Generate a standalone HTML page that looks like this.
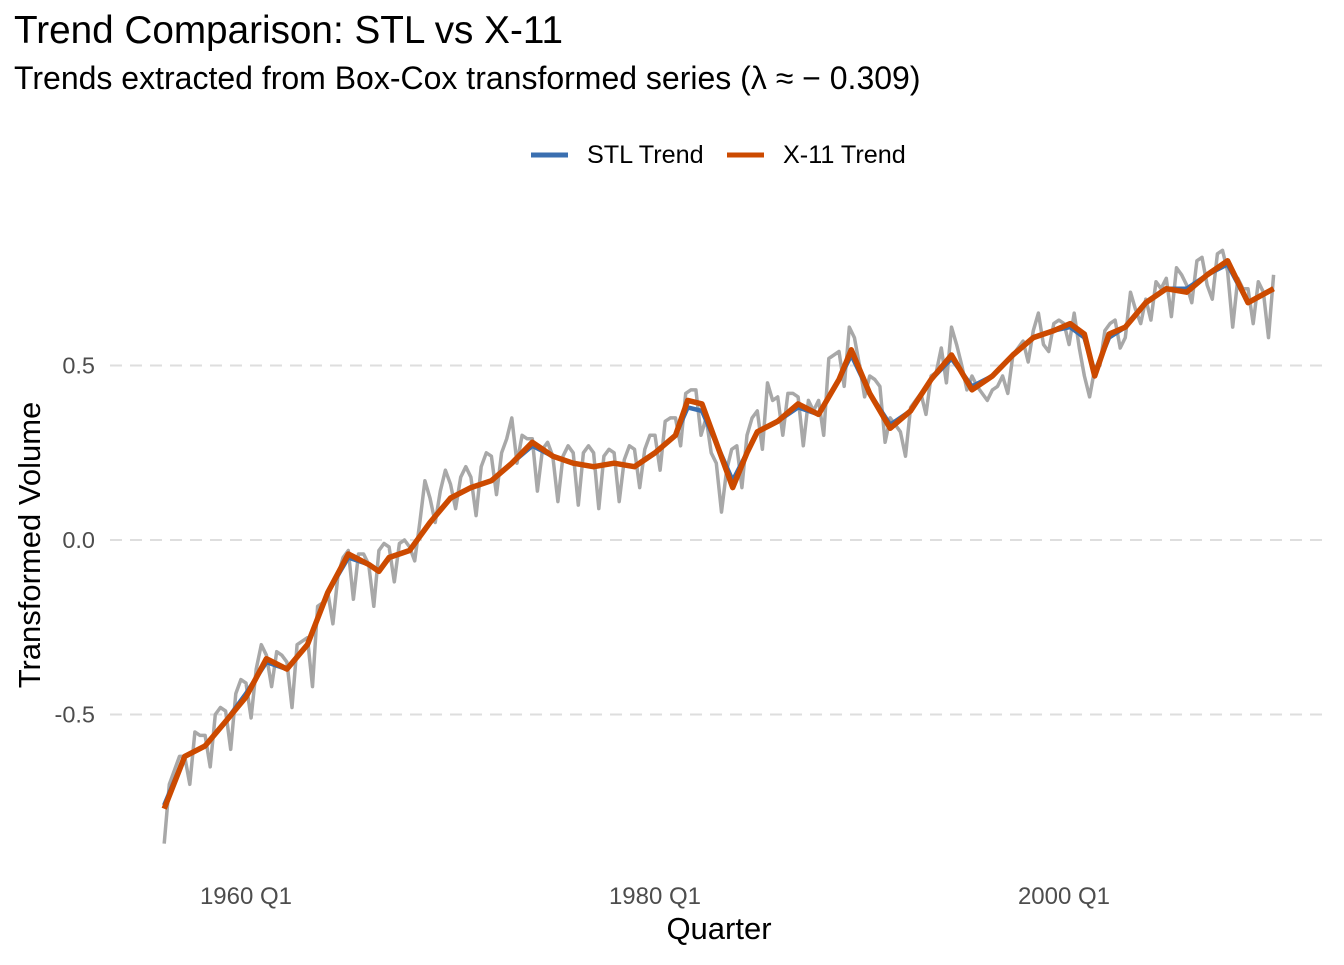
<!DOCTYPE html>
<html><head><meta charset="utf-8"><style>
body{margin:0;background:#fff;}
svg text{font-family:"Liberation Sans",Arial,sans-serif;}
</style></head><body>
<svg id="chart" width="1344" height="960" viewBox="0 0 1344 960" xmlns="http://www.w3.org/2000/svg">
<rect width="1344" height="960" fill="#fff"/>
<text x="14" y="43" font-size="38.7" fill="#000">Trend Comparison: STL vs X-11</text>
<text x="14" y="89" font-size="32" fill="#000">Trends extracted from Box-Cox transformed series (λ ≈ − 0.309)</text>
<g>
<line x1="531" y1="155" x2="568" y2="155" stroke="#3a6fb0" stroke-width="5"/>
<text x="587" y="163" font-size="25.2" fill="#000">STL Trend</text>
<line x1="727" y1="155" x2="764" y2="155" stroke="#cc4a00" stroke-width="5"/>
<text x="783" y="163" font-size="25.2" fill="#000">X-11 Trend</text>
</g>
<g id="grid"></g>
<g id="yticks"></g>
<g id="xticks"></g>
<g id="series"></g>
<text x="719" y="939" font-size="31" text-anchor="middle" fill="#000">Quarter</text>
<text transform="translate(40,545) rotate(-90)" font-size="31" text-anchor="middle" fill="#000">Transformed Volume</text>
</svg>
<script>
const yTicks=[-0.5,0,0.5];
const yTickLabels=["-0.5","0.0","0.5"];
const xTicks=[1960,1980,2000];
const xTickLabels=["1960 Q1","1980 Q1","2000 Q1"];
const rawStart=1956;
const rawValues=[
-0.87,-0.70,-0.66,-0.62, -0.62,-0.70,-0.55,-0.56, -0.56,-0.65,-0.50,-0.48, -0.49,-0.60,-0.44,-0.40,
-0.41,-0.51,-0.37,-0.30, -0.33,-0.42,-0.32,-0.33, -0.35,-0.48,-0.30,-0.29, -0.28,-0.42,-0.19,-0.18,
-0.15,-0.24,-0.10,-0.05, -0.03,-0.17,-0.04,-0.04, -0.07,-0.19,-0.03,-0.01, -0.02,-0.12,-0.01,0.00,
-0.02,-0.06,0.05,0.17, 0.12,0.05,0.14,0.20, 0.16,0.09,0.18,0.21, 0.18,0.07,0.21,0.25,
0.24,0.13,0.25,0.29, 0.35,0.22,0.30,0.29, 0.29,0.14,0.26,0.28, 0.24,0.11,0.24,0.27,
0.25,0.10,0.25,0.27, 0.25,0.09,0.24,0.26, 0.25,0.11,0.23,0.27, 0.26,0.15,0.26,0.30,
0.30,0.20,0.34,0.35, 0.35,0.27,0.42,0.43, 0.43,0.30,0.35,0.25, 0.22,0.08,0.20,0.26,
0.27,0.15,0.30,0.35, 0.37,0.26,0.45,0.40, 0.41,0.30,0.42,0.42, 0.41,0.27,0.40,0.37,
0.40,0.30,0.52,0.53, 0.54,0.44,0.61,0.58, 0.50,0.41,0.47,0.46, 0.44,0.28,0.35,0.33,
0.31,0.24,0.38,0.40, 0.42,0.36,0.47,0.48, 0.55,0.45,0.61,0.56, 0.50,0.43,0.47,0.44,
0.42,0.40,0.43,0.44, 0.47,0.42,0.53,0.55, 0.57,0.51,0.60,0.65, 0.56,0.54,0.62,0.63,
0.62,0.56,0.65,0.55, 0.47,0.41,0.49,0.50, 0.60,0.62,0.63,0.55, 0.58,0.71,0.66,0.62,
0.69,0.63,0.74,0.72, 0.75,0.64,0.78,0.76, 0.73,0.68,0.80,0.81, 0.73,0.69,0.82,0.83,
0.77,0.61,0.75,0.72, 0.72,0.62,0.74,0.71, 0.58,0.76];
const trendYears=[1956,1957,1958,1959,1960,1961,1962,1963,1964,1965,1966,1966.5,1967,1968,1969,1970,1971,1972,1973,1974,1975,1976,1977,1978,1979,1980,1981,1981.6,1982.3,1983.8,1984.5,1985,1986,1987,1988,1989,1989.6,1990.5,1991.5,1992.5,1993.5,1994.5,1995.5,1996.5,1997.5,1998.5,1999.5,2000.3,2001,2001.5,2002.2,2003,2004,2005,2006,2007,2008,2009,2010.25];
const x11Values=[-0.77,-0.62,-0.59,-0.52,-0.45,-0.34,-0.37,-0.30,-0.15,-0.04,-0.07,-0.09,-0.05,-0.03,0.05,0.12,0.15,0.17,0.22,0.28,0.24,0.22,0.21,0.22,0.21,0.25,0.30,0.40,0.39,0.15,0.25,0.31,0.34,0.39,0.36,0.46,0.545,0.42,0.32,0.37,0.46,0.53,0.43,0.47,0.53,0.58,0.60,0.62,0.59,0.47,0.59,0.61,0.68,0.72,0.71,0.76,0.80,0.68,0.72];
const stlValues=[-0.76,-0.62,-0.59,-0.52,-0.44,-0.35,-0.37,-0.30,-0.15,-0.05,-0.07,-0.09,-0.05,-0.03,0.05,0.12,0.15,0.17,0.22,0.27,0.24,0.22,0.21,0.22,0.21,0.25,0.30,0.38,0.37,0.17,0.25,0.31,0.34,0.38,0.36,0.46,0.53,0.42,0.33,0.37,0.46,0.52,0.44,0.47,0.53,0.58,0.60,0.61,0.58,0.48,0.58,0.61,0.68,0.72,0.72,0.76,0.79,0.68,0.72];
const NS="http://www.w3.org/2000/svg";
function xs(yr){return 246+(yr-1960)*20.45;}
function ys(v){return 540-v*349;}
function mk(tag,attrs,parent){const e=document.createElementNS(NS,tag);for(const k in attrs)e.setAttribute(k,attrs[k]);parent.appendChild(e);return e;}
const grid=document.getElementById('grid'),yt=document.getElementById('yticks'),xt=document.getElementById('xticks'),ser=document.getElementById('series');
yTicks.forEach((v,i)=>{
  const l=mk('line',{x1:110,x2:1330,y1:ys(v),y2:ys(v),stroke:'#dedede','stroke-width':2,'stroke-dasharray':'12,8'},grid);
  
  
  const t=mk('text',{x:95,y:ys(v)+8,'font-size':23.5,'text-anchor':'end',fill:'#4d4d4d'},yt);
  
  
  t.textContent=yTickLabels[i];
});
xTicks.forEach((v,i)=>{
  const t=mk('text',{x:xs(v),y:904,'font-size':24,'text-anchor':'middle',fill:'#4d4d4d'},xt);
  
  
  t.textContent=xTickLabels[i];
});
const rawPts=rawValues.map((v,i)=>xs(rawStart+i/4).toFixed(1)+','+ys(v).toFixed(1)).join(' ');
const raw=mk('polyline',{points:rawPts,fill:'none',stroke:'#a8a8a8','stroke-width':3.5,'stroke-linejoin':'round'},ser);


function trendPts(vals){return vals.map((v,i)=>xs(trendYears[i]).toFixed(1)+','+ys(v).toFixed(1)).join(' ');}
const stl=mk('polyline',{points:trendPts(stlValues),fill:'none',stroke:'#3a6fb0','stroke-width':4.5,'stroke-linejoin':'round'},ser);


const x11=mk('polyline',{points:trendPts(x11Values),fill:'none',stroke:'#cc4a00','stroke-width':5.5,'stroke-linejoin':'round'},ser);


</script>
</body></html>
